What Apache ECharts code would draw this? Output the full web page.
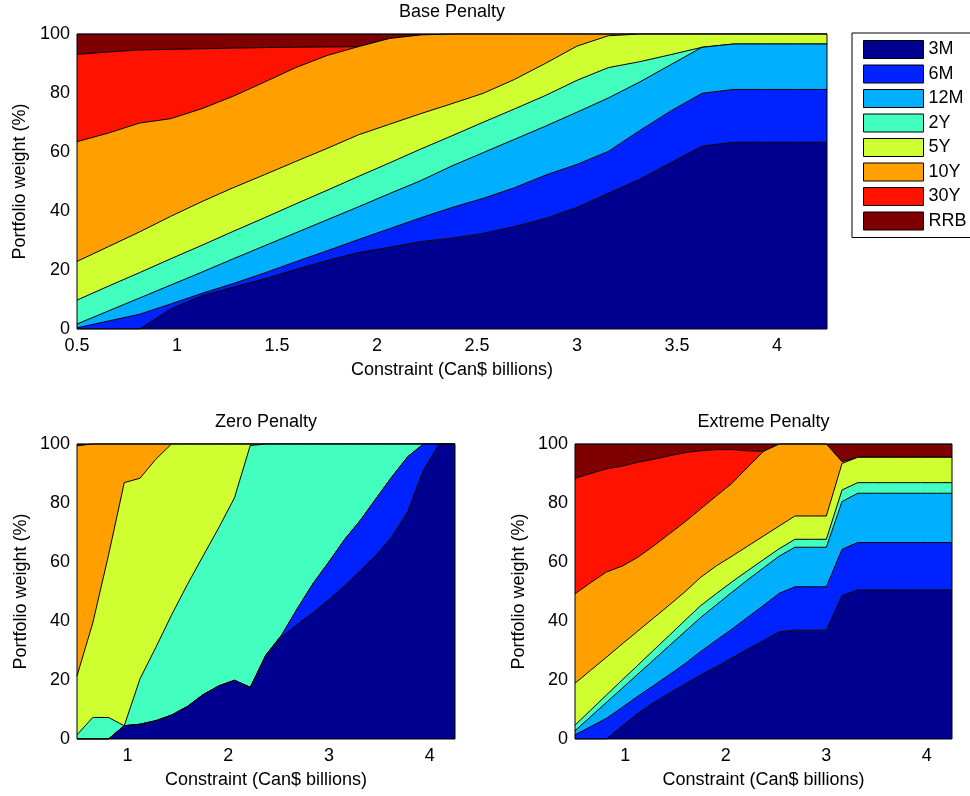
<!DOCTYPE html>
<html>
<head>
<meta charset="utf-8">
<title>Portfolio weights by constraint</title>
<script src="https://cdn.jsdelivr.net/npm/echarts@6.0.0/dist/echarts.min.js"></script>
<style>
  html, body { margin: 0; padding: 0; background: #fff; }
  #chart { width: 970px; height: 796px; }
</style>
</head>
<body>
<div id="chart"></div>
<script>
// constraint levels (Can$ billions), shared by all three panels
const constraint = [0.5, 0.65625, 0.8125, 0.96875, 1.125, 1.28125, 1.4375, 1.59375, 1.75,
  1.90625, 2.0625, 2.21875, 2.375, 2.53125, 2.6875, 2.84375, 3.0, 3.15625, 3.3125,
  3.46875, 3.625, 3.78125, 3.9375, 4.09375, 4.25]

const tenors = ['3M', '6M', '12M', '2Y', '5Y', '10Y', '30Y', 'RRB']
const colors = ['#000090', '#0022ff', '#00b0ff', '#42ffc0', '#cfff30', '#ffa000', '#ff1200', '#7f0000']

const xTicksTop = [0.5, 1, 1.5, 2, 2.5, 3, 3.5, 4]
const xTicksBottom = [1, 2, 3, 4]

// Base Penalty weights (%)
const base3M = [0, 0, 0, 6.8, 11.3, 14.2, 17.0, 20.2, 23.2, 25.9, 27.7, 29.6, 30.8, 32.4, 34.7, 37.5, 41.2, 46.0, 50.7, 56.4, 62.0, 63.3, 63.3, 63.3, 63.3]
const base6M = [0.4, 2.7, 5.0, 1.7, 0.8, 1.2, 2.0, 2.6, 3.3, 4.4, 6.3, 8.1, 10.4, 11.9, 13.2, 14.7, 14.6, 14.2, 16.5, 17.5, 17.9, 17.9, 17.9, 17.9, 17.9]
const base12M = [1.3, 3.4, 5.5, 6.4, 7.2, 8.4, 9.2, 9.8, 10.5, 11.1, 11.9, 12.6, 14.1, 15.5, 16.4, 16.6, 17.7, 18.1, 16.5, 15.7, 15.6, 15.4, 15.4, 15.4, 15.4]
const base2Y = [8.1, 8.4, 8.6, 8.9, 9.1, 9.3, 9.5, 9.8, 10.0, 10.3, 10.4, 10.7, 10.2, 10.3, 10.3, 10.4, 10.8, 10.3, 6.9, 3.4, 0, 0, 0, 0, 0]
const base5Y = [13.1, 13.4, 13.8, 14.4, 14.8, 14.8, 14.6, 14.4, 14.2, 14.1, 13.1, 12.0, 10.9, 9.8, 10.0, 10.9, 11.6, 10.8, 9.4, 7.0, 4.5, 3.4, 3.4, 3.4, 3.4]
const base10Y = [40.6, 38.5, 36.9, 33.1, 31.5, 31.0, 31.4, 31.8, 31.5, 29.9, 29.1, 26.7, 23.6, 20.1, 15.4, 9.9, 4.1, 0.6, 0, 0, 0, 0, 0, 0, 0]
const base30Y = [29.6, 27.5, 24.8, 23.5, 20.3, 16.3, 11.7, 6.9, 2.9, 0, 0, 0, 0, 0, 0, 0, 0, 0, 0, 0, 0, 0, 0, 0, 0]
const baseRRB = [6.9, 6.1, 5.4, 5.2, 5.0, 4.8, 4.6, 4.5, 4.4, 4.3, 1.5, 0.3, 0, 0, 0, 0, 0, 0, 0, 0, 0, 0, 0, 0, 0]

// Zero Penalty weights (%)
const zero3M = [0, 0, 0, 4.5, 5.0, 6.2, 8.1, 11.0, 15.0, 18.0, 19.9, 17.5, 28.5, 34.7, 38.9, 42.9, 47.3, 52.0, 57.1, 62.4, 68.6, 77.1, 91.2, 100, 100]
const zero6M = [0, 0, 0, 0, 0, 0, 0, 0, 0, 0, 0, 0, 0, 0.6, 5.4, 9.9, 12.8, 15.7, 17.1, 19.2, 20.3, 18.6, 8.8, 0, 0]
const zero12M = [0, 0, 0, 0, 0, 0, 0, 0, 0, 0, 0, 0, 0, 0, 0, 0, 0, 0, 0, 0, 0, 0, 0, 0, 0]
const zero2Y = [1.4, 7.3, 7.3, 0, 15.4, 24.8, 33.9, 41.3, 47.0, 53.6, 61.9, 82.0, 71.5, 64.7, 55.7, 47.2, 39.9, 32.3, 25.8, 18.4, 11.1, 4.3, 0, 0, 0]
const zero5Y = [20.0, 32.0, 55.0, 82.4, 68.0, 63.8, 58.0, 47.7, 38.0, 28.4, 18.2, 0.5, 0, 0, 0, 0, 0, 0, 0, 0, 0, 0, 0, 0, 0]
const zero10Y = [78.0, 60.7, 37.7, 13.1, 11.6, 5.2, 0, 0, 0, 0, 0, 0, 0, 0, 0, 0, 0, 0, 0, 0, 0, 0, 0, 0, 0]
const zero30Y = [0, 0, 0, 0, 0, 0, 0, 0, 0, 0, 0, 0, 0, 0, 0, 0, 0, 0, 0, 0, 0, 0, 0, 0, 0]
const zeroRRB = [0.6, 0, 0, 0, 0, 0, 0, 0, 0, 0, 0, 0, 0, 0, 0, 0, 0, 0, 0, 0, 0, 0, 0, 0, 0]

// Extreme Penalty weights (%)
const ext3M = [0, 0, 0, 4.4, 8.7, 12.3, 15.5, 18.6, 21.7, 24.5, 27.5, 30.5, 33.4, 36.3, 36.9, 36.9, 36.9, 48.6, 50.5, 50.5, 50.5, 50.5, 50.5, 50.5, 50.5]
const ext6M = [1.4, 4.2, 7.0, 6.3, 5.8, 5.8, 6.3, 6.9, 8.0, 9.0, 9.8, 10.8, 11.9, 13.1, 14.7, 14.7, 14.7, 15.7, 16.1, 16.1, 16.1, 16.1, 16.1, 16.1, 16.1]
const ext12M = [1.4, 3.4, 5.4, 6.5, 7.5, 8.7, 9.8, 10.9, 11.5, 12.0, 12.5, 12.7, 12.7, 12.6, 13.4, 13.4, 13.4, 16.2, 16.7, 16.7, 16.7, 16.7, 16.7, 16.7, 16.7]
const ext2Y = [1.9, 2.2, 2.5, 2.8, 3.0, 3.3, 3.5, 3.8, 4.0, 3.8, 3.5, 3.1, 2.8, 2.5, 2.7, 2.7, 2.7, 3.9, 3.6, 3.6, 3.6, 3.6, 3.6, 3.6, 3.6]
const ext5Y = [14.2, 13.5, 12.8, 12.2, 11.6, 10.9, 10.3, 9.7, 9.6, 9.4, 8.7, 8.3, 8.0, 7.7, 7.9, 7.9, 7.9, 9.0, 8.6, 8.6, 8.6, 8.6, 8.6, 8.6, 8.6]
const ext10Y = [30.3, 29.7, 28.9, 26.4, 25.0, 24.4, 24.1, 23.7, 23.2, 23.7, 24.7, 26.8, 28.7, 27.8, 24.4, 24.4, 24.4, 0.6, 0, 0, 0, 0, 0, 0, 0]
const ext30Y = [39.2, 37.0, 35.0, 33.9, 32.2, 29.4, 26.5, 23.5, 19.7, 15.7, 11.4, 5.5, 0, 0, 0, 0, 0, 0, 0, 0, 0, 0, 0, 0, 0]
const extRRB = [11.6, 10.0, 8.4, 7.5, 6.2, 5.2, 4.0, 2.9, 2.3, 1.9, 1.9, 2.3, 2.5, 0, 0, 0, 0, 6.0, 4.5, 4.5, 4.5, 4.5, 4.5, 4.5, 4.5]

const panels = [
  { title: 'Base Penalty', stack: 'base', ticks: xTicksTop,
    values: [base3M, base6M, base12M, base2Y, base5Y, base10Y, base30Y, baseRRB] },
  { title: 'Zero Penalty', stack: 'zero', ticks: xTicksBottom,
    values: [zero3M, zero6M, zero12M, zero2Y, zero5Y, zero10Y, zero30Y, zeroRRB] },
  { title: 'Extreme Penalty', stack: 'extreme', ticks: xTicksBottom,
    values: [ext3M, ext6M, ext12M, ext2Y, ext5Y, ext10Y, ext30Y, extRRB] }
]

const font = '"Liberation Sans", Arial, Helvetica, sans-serif'
const grids = [
  { left: 77, top: 34, width: 750, height: 295 },
  { left: 77, top: 444, width: 378, height: 295 },
  { left: 575, top: 444, width: 377, height: 295 }
]

const myChart = echarts.init(document.getElementById('chart'))

// the constraint grid is evenly spaced, so a hidden category axis (stacked by index)
// carries the areas and a value axis on the same grid carries the labels
const xAxes = []
panels.forEach((p, g) => {
  xAxes.push({
    gridIndex: g,
    type: 'category',
    position: 'top',
    boundaryGap: false,
    data: constraint.map(String),
    show: false
  })
  xAxes.push({
    gridIndex: g,
    type: 'value',
    position: 'bottom',
    min: 0.5,
    max: 4.25,
    name: 'Constraint (Can$ billions)',
    nameLocation: 'middle',
    nameGap: 32,
    nameTextStyle: { fontSize: 18, color: '#000', fontFamily: font },
    axisLine: { show: false },
    axisTick: { show: false },
    splitLine: { show: false },
    axisLabel: { customValues: p.ticks, fontSize: 18, color: '#000', fontFamily: font, margin: 8 }
  })
})

const series = []
panels.forEach((p, g) => {
  tenors.forEach((name, k) => {
    series.push({
      name: name,
      type: 'line',
      xAxisIndex: 2 * g,
      yAxisIndex: g,
      stack: p.stack,
      stackStrategy: 'all',
      symbol: 'none',
      z: 10 - k,
      lineStyle: { color: '#000', width: 1 },
      areaStyle: { color: colors[k], opacity: 1 },
      emphasis: { disabled: true },
      data: p.values[k]
    })
  })
})

const option = {
  animation: false,
  backgroundColor: '#fff',
  title: panels.map((p, g) => ({
    text: p.title,
    left: grids[g].left + grids[g].width / 2,
    top: grids[g].top - 31,
    textAlign: 'center',
    padding: 0,
    textStyle: { fontSize: 18, fontWeight: 'normal', color: '#000', fontFamily: font }
  })),
  legend: {
    orient: 'vertical',
    left: 852,
    top: 33,
    padding: [7, 40, 7, 11],
    itemWidth: 60,
    itemHeight: 18,
    itemGap: 5.5,
    borderColor: '#000',
    borderWidth: 1,
    backgroundColor: '#fff',
    icon: 'rect',
    selectedMode: false,
    textStyle: { fontSize: 18, lineHeight: 18, color: '#000', fontFamily: font },
    data: tenors.map((n, k) => ({
      name: n,
      itemStyle: { color: colors[k], borderColor: '#000', borderWidth: 1 }
    }))
  },
  grid: grids.map(r => Object.assign({
    show: true,
    z: 20,
    outerBoundsMode: 'none',
    containLabel: false,
    backgroundColor: 'transparent',
    borderColor: '#000',
    borderWidth: 1
  }, r)),
  xAxis: xAxes,
  yAxis: panels.map((p, g) => ({
    gridIndex: g,
    type: 'value',
    min: 0,
    max: 100,
    interval: 20,
    name: 'Portfolio weight (%)',
    nameLocation: 'middle',
    nameGap: 47,
    nameTextStyle: { fontSize: 18, color: '#000', fontFamily: font },
    axisLine: { show: false },
    axisTick: { show: false },
    splitLine: { show: false },
    axisLabel: { fontSize: 18, color: '#000', fontFamily: font, margin: 7 }
  })),
  series: series
}

option && myChart.setOption(option)
</script>
</body>
</html>
